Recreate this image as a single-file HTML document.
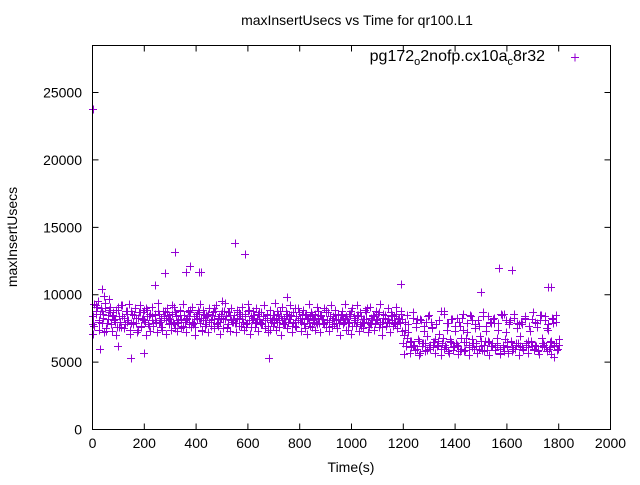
<!DOCTYPE html>
<html><head><meta charset="utf-8"><style>
body{margin:0;background:#fff}
svg{font-family:"Liberation Sans",sans-serif;font-size:14px}
</style></head><body>
<svg id="chart" width="640" height="480" viewBox="0 0 640 480" xmlns="http://www.w3.org/2000/svg">
<rect width="640" height="480" fill="#fff"/>
<text x="357" y="25" text-anchor="middle">maxInsertUsecs vs Time for qr100.L1</text>
<g id="axes"></g>
<g id="pts"></g>
<rect x="92.5" y="45.5" width="518" height="384" fill="none" stroke="#000"/>
<text x="351" y="472" text-anchor="middle">Time(s)</text>
<text transform="translate(17,237) rotate(-90)" text-anchor="middle">maxInsertUsecs</text>
<g>
<text x="545" y="61" text-anchor="end" font-size="16">pg172<tspan dy="4" font-size="11">o</tspan><tspan dy="-4">2nofp.cx10a</tspan><tspan dy="4" font-size="11">c</tspan><tspan dy="-4">8r32</tspan></text>
<path d="M571 57.5h8M575 53.5v8" stroke="#9400d3" stroke-width="1"/>
</g>
</svg>
<script>
const xTicks=[0,200,400,600,800,1000,1200,1400,1600,1800,2000];
const yTicks=[0,5000,10000,15000,20000,25000];
const seriesA=[84,77,88,91,80,86,79,83,90,75,82,87,78,85,81,89,76,84,80,92,
83,78,86,81,74,88,80,85,79,83,87,76,82,89,80,84,78,86,81,77,
85,80,88,79,83,76,84,81,87,78,82,86,80,75,84,79,88,82,77,85,
81,83,78,87,80,84,76,82,89,79,83,81,86,78,84,80,77,85,82,88,
79,83,80,86,75,82,84,78,87,81,80,85,79,83,77,86,82,80,84,78,
88,81,76,83,85,79,82,87,80,78,84,81,86,77,83,80,85,79,82,88,
76,84,81,83,78,86,80,82,85,79,77,84,81,87,80,83,78,85,82,79,
84,76,81,86,80,83,79,85,82,78,87,81,80,84,77,83,86,79,82,81,
85,78,80,84,82,79,86,77,83,81,80,85,78,84,82,79,87,80,76,83,
81,84,79,82,86,78,80,83,85,77,82,79,84,81,80,86,78,83,79,82,
64,80,62,78,65,61,83,63,79,60,66,82,62,77,64,59,84,63,80,61,
65,78,62,81,60,64,86,63,79,58,66,82,61,77,64,62,80,60,83,65,
59,79,63,85,61,64,78,62,81,60,66,84,63,77,59,65,80,62,82,61,
64,79,60,86,63,58,81,62,78,65,61,83,60,79,64,62,80,59,84,63,
61,77,65,82,60,63,79,58,85,62,64,81,61,78,60,66,83,62,80,59,63];
const seriesB=[78,92,81,86,73,89,84,80,91,76,83,88,79,85,72,87,82,90,77,84,
81,86,74,88,83,79,91,80,85,76,82,89,78,84,87,73,81,86,80,90,
77,83,88,75,85,82,79,87,84,76,89,81,80,86,78,92,83,74,85,80,
88,79,84,82,77,90,81,86,75,83,87,80,78,85,82,89,76,84,81,79,
86,83,74,88,80,85,77,82,90,79,84,81,87,76,83,80,85,78,82,86,
70,85,66,62,82,57,64,80,61,76,67,63,88,60,79,65,62,83,58,74,
68,61,81,64,77,59,66,84,62,79,63,57,86,65,81,60,64,78,61,83,
66,62,80,59,85,63,75,61,82,64];
const seriesC=[71,93,86,95,74,90,88,72,94,79,85,91,73,87,82,70,89,76,92,84,
75,88,80,93,71,86,78,90,83,74,92,77,87,81,70,89,84,73,91,79,
86,72,94,80,76,88,83,71,90,85,74,92,78,87,73,81,89,75,93,80,
72,88,84,76,91,79,70,86,83,93,74,89,77,85,72,90,81,87,75,92,
78,84,71,88,82,94,76,87,73,90,80,85,72,89,83,77,91,74,86,79,
93,71,84,88,76,90,73,82,87,79,92,75,85,72,89,81,77,94,74,86,
83,70,91,78,88,75,84,92,72,87,80,76,90,83,73,89,79,86,71,93,
77,85,82,74,91,88,72,84,79,90,76,87,73,92,81,78,89,75,85,70,
88,82,93,74,79,86,71,90,84,77,92,73,87,80,75,89,82,72,91,78,
85,74,88,81,76,93,70,86,83,79,90,72,87,77,84,91,75,82,88,73,
56,74,68,72,57,66,87,59,76,67,55,81,64,73,58,69,85,60,75,65,
57,78,66,71,55,68,88,61,74,57,67,82,59,73,63,56,77,68,86,58,
65,72,55,84,67,60,75,57,81,69,62,87,58,73,66,55,79,64,83,59,
68,74,56,85,61,67,72,57,80,66,58,86,63,75,55,69,78,60,82,64,
57,73,66,87,59,62,76,56,81,68,61,84,58,74,65,56,79,63,85,60,67];
const outlierTimes=[0,35,45,65,150,240,280,320,360,375,410,420,500,550,590,680,750,1190,1500,1570,1620,1760,1770,100,30,200,1780];
const outlierValues=[23800,10400,9900,9700,5300,10700,11600,13200,11700,12100,11700,11700,9500,13800,13000,5300,9800,10800,10200,12000,11800,10600,10600,6200,6000,5700,5400];

const X0=92.5,X1=610.5,Y0=429.5,Y1=45.5,XMAX=2000,YMAX=28490;
const sx=t=>X0+(X1-X0)*t/XMAX;
const sy=v=>Y0-(Y0-Y1)*v/YMAX;
const NS="http://www.w3.org/2000/svg";
const axes=document.getElementById('axes');
const pts=document.getElementById('pts');
let tickPath='';
xTicks.forEach(t=>{
  const x=sx(t);
  tickPath+=`M${x} ${Y0}v-6M${x} ${Y1}v6`;
  const tx=document.createElementNS(NS,'text');
  tx.setAttribute('x',x);tx.setAttribute('y',448);tx.setAttribute('text-anchor','middle');
  tx.textContent=t;
  
  
  axes.appendChild(tx);
});
yTicks.forEach(v=>{
  const y=sy(v);
  tickPath+=`M${X0} ${y}h6M${X1} ${y}h-6`;
  const tx=document.createElementNS(NS,'text');
  tx.setAttribute('x',82);tx.setAttribute('y',y+5);tx.setAttribute('text-anchor','end');
  tx.textContent=v;
  
  
  axes.appendChild(tx);
});
const tp=document.createElementNS(NS,'path');
tp.setAttribute('d',tickPath);tp.setAttribute('stroke','#000');


axes.appendChild(tp);

let d='';
function plus(t,v){const x=Math.round(sx(t)),y=Math.round(sy(v))+0.5;d+=`M${x-4} ${y}h8M${x+0.5} ${y-4}v8`;}
seriesA.forEach((v,i)=>plus(i*6,v*100));
seriesB.forEach((v,i)=>plus(3+i*12,v*100));
seriesC.forEach((v,i)=>plus(1.5+i*6,v*100));
outlierTimes.forEach((t,i)=>plus(t,outlierValues[i]));
const p=document.createElementNS(NS,'path');
p.setAttribute('d',d);p.setAttribute('stroke','#9400d3');p.setAttribute('fill','none');


pts.appendChild(p);
</script>
</body></html>
